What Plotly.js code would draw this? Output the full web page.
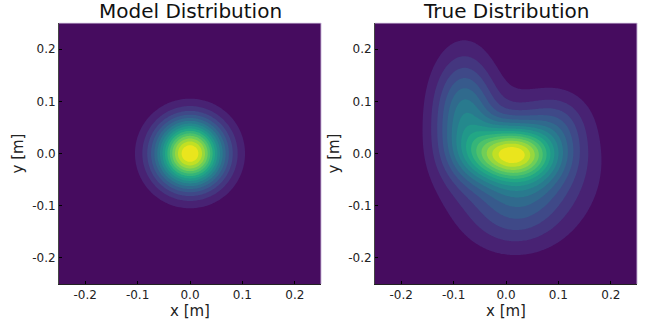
<!DOCTYPE html>
<html>
<head>
<meta charset="utf-8">
<script src="https://cdn.plot.ly/plotly-3.0.1.min.js"></script>
<style>html,body{margin:0;padding:0;background:#fff;}#chart{width:647px;height:320px;}</style>
</head>
<body>
<div id="chart"></div>
<script>
// ---- data ----
const panelTitles = ["Model Distribution", "True Distribution"];
const xLabel = "x [m]";
const yLabel = "y [m]";
const tickVals = [-0.2, -0.1, 0.0, 0.1, 0.2];
const tickText = ["-0.2", "-0.1", "0.0", "0.1", "0.2"];
const axisRange = [-0.25, 0.25];

// Model distribution: single isotropic Gaussian component
const modelWeight = [1.0];
const modelMeanX  = [0.0];
const modelMeanY  = [0.0];
const modelSigmaX = [0.0446];
const modelSigmaY = [0.0446];

// True distribution: Gaussian mixture components (core, upper-left ridge, broad, upper-right, lower)
const trueWeight = [0.55, 0.32, 0.33, 0.10, 0.07];
const trueMeanX  = [0.01, -0.08, 0.03, 0.10, 0.01];
const trueMeanY  = [0.0, 0.075, -0.03, 0.06, -0.13];
const trueSigmaX = [0.055, 0.04, 0.078, 0.04, 0.06];
const trueSigmaY = [0.035, 0.075, 0.075, 0.04, 0.045];

const nLevels = 16;      // number of filled bands
const gridN = 201;       // evaluation grid size

// viridis reference stops
const viridisPos = [0, 0.05, 0.1, 0.2, 0.3, 0.4, 0.5, 0.6, 0.7, 0.8, 0.9, 0.95, 1.0];
const viridisHex = ["#440154","#471365","#482475","#414487","#355f8d","#2a788e","#21918c","#22a884","#44bf70","#7ad151","#bddf26","#dfe318","#fde725"];

// ---- helpers ----
function hexToRgb(h){ return [parseInt(h.slice(1,3),16),parseInt(h.slice(3,5),16),parseInt(h.slice(5,7),16)]; }
function viridis(t){
  for(let i=0;i<viridisPos.length-1;i++){
    if(t<=viridisPos[i+1]){
      const f=(t-viridisPos[i])/(viridisPos[i+1]-viridisPos[i]);
      const a=hexToRgb(viridisHex[i]), b=hexToRgb(viridisHex[i+1]);
      return 'rgb('+a.map((v,k)=>Math.round(v+(b[k]-v)*f)).join(',')+')';
    }
  }
  return viridisHex[viridisHex.length-1];
}
// band i gets the colour of its layer midpoint, as in a filled contour plot
const bandScale = [];
for(let i=0;i<nLevels;i++) bandScale.push([i/(nLevels-1), viridis((i+0.5)/nLevels)]);

function grid(n){ const a=[]; for(let i=0;i<n;i++) a.push(axisRange[0]+(axisRange[1]-axisRange[0])*i/(n-1)); return a; }
const gx = grid(gridN), gy = grid(gridN);
function density(w,mx,my,sx,sy){
  const z=[];
  for(let j=0;j<gy.length;j++){
    const row=[];
    for(let i=0;i<gx.length;i++){
      let v=0;
      for(let k=0;k<w.length;k++){
        const dx=(gx[i]-mx[k])/sx[k], dy=(gy[j]-my[k])/sy[k];
        v+=w[k]*Math.exp(-0.5*(dx*dx+dy*dy));
      }
      row.push(v);
    }
    z.push(row);
  }
  return z;
}
function maxOf(z){ let m=-Infinity; z.forEach(r=>r.forEach(v=>{if(v>m)m=v;})); return m; }

const zModel = density(modelWeight,modelMeanX,modelMeanY,modelSigmaX,modelSigmaY);
const zTrue  = density(trueWeight,trueMeanX,trueMeanY,trueSigmaX,trueSigmaY);

function trace(z, xa, ya){
  const m = maxOf(z);
  return {
    type:'contour', x:gx, y:gy, z:z, xaxis:xa, yaxis:ya,
    colorscale:bandScale, showscale:false,
    autocontour:false,
    contours:{coloring:'fill', showlines:false, start:m/nLevels, end:m*(nLevels-1)/nLevels+1e-12, size:m/nLevels},
    line:{width:0}, hoverinfo:'skip'
  };
}

const fam = 'DejaVu Sans, sans-serif';
const yDom = [36/320, 297/320];
const xDom1 = [59/647, 321/647];
const xDom2 = [375/647, 637/647];

function xaxis(dom, anchor){
  return {domain:dom, anchor:anchor, range:axisRange, tickvals:tickVals, ticktext:tickText,
    ticks:'inside', ticklen:3, tickcolor:'#000', tickfont:{size:12, family:fam, color:'#222'},
    showgrid:false, zeroline:false, showline:true, linecolor:'#222', linewidth:1,
    title:{text:xLabel, font:{size:15, family:fam, color:'#222'}, standoff:2}};
}
function yaxis(anchor){
  return {domain:yDom, anchor:anchor, range:axisRange, tickvals:tickVals, ticktext:tickText,
    ticks:'inside', ticklen:3, tickcolor:'#000', tickfont:{size:12, family:fam, color:'#222'},
    showgrid:false, zeroline:false, showline:true, linecolor:'#444', linewidth:1,
    title:{text:yLabel, font:{size:15, family:fam, color:'#222'}, standoff:4}};
}

const layout = {
  width:647, height:320, margin:{l:0,r:0,t:0,b:0},
  paper_bgcolor:'#fff', plot_bgcolor:'#fff', showlegend:false, font:{family:fam, color:'#222'},
  xaxis: xaxis(xDom1,'y'), yaxis: yaxis('x'),
  xaxis2: xaxis(xDom2,'y2'), yaxis2: yaxis('x2'),
  annotations:[
    {text:panelTitles[0], xref:'paper', yref:'paper', x:(xDom1[0]+xDom1[1])/2, y:yDom[1], yanchor:'bottom', xanchor:'center', yshift:-2, showarrow:false, font:{size:20, family:fam, color:'#111'}},
    {text:panelTitles[1], xref:'paper', yref:'paper', x:(xDom2[0]+xDom2[1])/2, y:yDom[1], yanchor:'bottom', xanchor:'center', yshift:-2, showarrow:false, font:{size:20, family:fam, color:'#111'}}
  ],
  shapes:[
    {type:'line', xref:'paper', yref:'paper', x0:xDom1[0], x1:xDom1[1], y0:yDom[1], y1:yDom[1], line:{color:'rgba(230,220,240,0.9)', width:1}},
    {type:'line', xref:'paper', yref:'paper', x0:xDom1[1], x1:xDom1[1], y0:yDom[0], y1:yDom[1], line:{color:'rgba(200,180,215,0.9)', width:1}},
    {type:'line', xref:'paper', yref:'paper', x0:xDom2[0], x1:xDom2[1], y0:yDom[1], y1:yDom[1], line:{color:'rgba(230,220,240,0.9)', width:1}},
    {type:'line', xref:'paper', yref:'paper', x0:xDom2[1], x1:xDom2[1], y0:yDom[0], y1:yDom[1], line:{color:'rgba(200,180,215,0.9)', width:1}}
  ]
};

Plotly.newPlot('chart', [trace(zModel,'x','y'), trace(zTrue,'x2','y2')], layout, {staticPlot:true, displayModeBar:false});
</script>
</body>
</html>
